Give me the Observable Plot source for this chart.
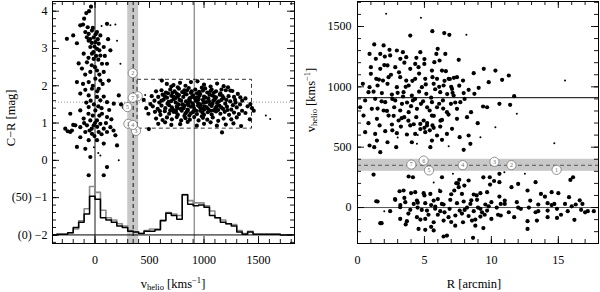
<!DOCTYPE html>
<html><head><meta charset="utf-8">
<script src="https://cdn.jsdelivr.net/npm/d3@7"></script>
<script src="https://cdn.jsdelivr.net/npm/@observablehq/plot@0.6"></script>
<style>
body{margin:0;background:#fff;}
#wrap{position:relative;width:600px;height:292px;font-family:"Liberation Serif","DejaVu Serif",serif;overflow:hidden;}
.panel{position:absolute;top:0;}
svg text{font-family:"Liberation Serif","DejaVu Serif",serif !important;}
.lab{position:absolute;font-size:12.5px;white-space:nowrap;color:#000;line-height:1;font-family:"Liberation Serif","DejaVu Serif",serif;}
.lab sub{font-size:8.5px;vertical-align:-2px;}
.lab sup{font-size:8.5px;vertical-align:5px;}
</style></head><body><div id="wrap"></div>
<script>
// ---------- DATA ----------
// Left panel: foreground stars [v_helio, C-R, size(1 big/0 small)]
const starsLeft = [[-37,4.12],[-80,3.95],[-135,3.62],[-110,3.64],[-67,3.57],[-28,3.48],[18,3.44],[-89,3.44],[-58,3.39],[-12,3.30],[49,3.35],[110,3.66],[141,3.62,0],[187,3.64,0],[-258,3.26],[-166,3.14],[-58,3.21],[3,3.17],[34,3.13],[-43,3.04],[18,2.99],[80,3.04],[-104,2.86],[-28,2.86],[49,2.81],[141,2.95],[202,3.21,0],[-74,2.63],[-12,2.72],[64,2.59],[110,2.59],[233,2.59,0],[-120,2.46],[-43,2.37],[18,2.41],[80,2.37],[-166,2.10],[-58,2.10],[3,2.19],[49,2.14],[126,2.14],[-89,1.89],[-28,1.92],[34,1.92],[-135,1.79],[-58,1.74],[18,1.70],[80,1.71],[218,1.74],[49,1.61],[110,1.56],[172,1.52],[264,1.43],[294,1.47],[239,1.50],[-58,1.43],[3,1.34],[64,1.25],[-135,1.34],[-227,1.25],[110,1.16],[-104,1.12],[-43,1.07],[18,1.07],[49,0.98],[-12,0.94],[-74,0.94],[-135,0.89],[-181,0.94],[-212,0.80],[-273,0.85],[80,0.85],[141,0.89],[110,0.76],[34,0.76],[-28,0.71],[-89,0.76],[-135,0.62],[-227,0.76],[187,0.67],[18,0.54],[-58,0.54],[-166,0.36],[80,0.45],[-43,0.09],[49,0.13,0],[110,-0.18],[80,-0.40],[-58,-0.40],[218,0.0,0],[-89,0.31],[202,0.40],
[-20,3.55],[5,3.38],[-45,3.25],[25,3.25],[-5,3.05],[-30,3.15],[40,2.95],[-75,3.30],[-15,2.90],[10,2.80],[-60,2.75],[30,2.70],[-30,2.55],[0,2.50],[-90,2.30],[40,2.30],[-20,2.00],[20,1.85],[-40,1.60],[-10,1.50],[30,1.45],[-80,1.55],[60,1.40],[-20,1.20],[40,1.20],[-60,1.25],[0,1.00],[-30,0.85],[20,0.90],[60,0.70],[-50,0.80],[-5,0.65],[100,1.00],[-100,1.00],[150,1.10],[170,0.80],[-200,0.95],[-250,0.78],[130,1.35],[-10,0.35,0],[30,0.20,0],[-110,2.05],[70,2.05],[90,2.80],[-150,2.60],[-200,3.35],[120,3.25],[60,3.60,0],[-100,3.80],[-55,4.00]];

// Left panel: globular clusters [v_helio, C-R, size]
const gcLeft = [[613,2.14],[659,2.05],[720,2.02],[780,2.08],[830,2.00],[880,2.10],[940,2.12],[1000,2.03],[1060,1.98],[1120,2.06],[1180,1.99],[760,1.96],[980,1.95],[700,1.98],[1220,1.96],
[560,1.85],[610,1.88],[650,1.82],[690,1.90],[730,1.85],[770,1.92],[800,1.83],[845,1.88],[880,1.81],[920,1.90],[955,1.84],[990,1.87],[1030,1.82],[1070,1.90],[1110,1.85],[1150,1.80],[1200,1.88],[1260,1.86],[1333,1.69],[1241,1.87],[670,1.80],[710,1.81],[750,1.79],[860,1.94],[1010,1.93],[1090,1.81],
[520,1.72],[580,1.70],[620,1.76],[660,1.68],[700,1.73],[735,1.66],[770,1.75],[810,1.70],[840,1.77],[870,1.67],[900,1.74],[935,1.69],[965,1.78],[1000,1.71],[1040,1.66],[1075,1.74],[1110,1.69],[1145,1.76],[1180,1.67],[1225,1.72],[1275,1.70],[1310,1.78],[1380,1.66],[760,1.71],[890,1.70],[1050,1.76],
[447,1.62],[508,1.51],[545,1.60],[590,1.55],[630,1.63],[665,1.52],[700,1.59],[740,1.55],[775,1.62],[805,1.50],[835,1.58],[865,1.64],[895,1.53],[925,1.60],[960,1.51],[990,1.62],[1020,1.56],[1055,1.50],[1085,1.60],[1120,1.54],[1160,1.62],[1195,1.52],[1240,1.58],[1290,1.55],[1350,1.60],[1425,1.51],[720,1.64],[850,1.52],[950,1.64],[1100,1.63],
[470,1.40],[530,1.45],[575,1.38],[610,1.47],[645,1.40],[680,1.48],[715,1.36],[750,1.44],[785,1.38],[820,1.46],[850,1.36],[880,1.44],[910,1.38],[945,1.47],[975,1.39],[1005,1.45],[1040,1.37],[1070,1.46],[1105,1.40],[1140,1.47],[1175,1.38],[1210,1.44],[1250,1.36],[1300,1.42],[1349,1.33],[1456,1.33],[1400,1.45],[800,1.49],[960,1.43],[1130,1.35],
[490,1.25],[550,1.30],[600,1.22],[640,1.32],[680,1.25],[720,1.30],[760,1.22],[795,1.33],[830,1.26],[865,1.20],[900,1.30],[935,1.24],[965,1.33],[1000,1.22],[1035,1.29],[1070,1.23],[1110,1.31],[1150,1.25],[1190,1.30],[1230,1.22],[1275,1.28],[1320,1.24],[1380,1.27],[850,1.34],[740,1.34],[1090,1.34],
[560,1.12],[620,1.08],[660,1.15],[705,1.10],[750,1.16],[790,1.07],[830,1.13],[870,1.09],[910,1.16],[950,1.07],[990,1.14],[1030,1.09],[1080,1.15],[1130,1.06],[1180,1.12],[1250,1.10],[1300,1.15],[1420,1.10],[980,1.18],[820,1.19],
[494,0.84],[580,0.98],[643,1.02],[700,0.95],[781,0.97],[850,1.03],[934,0.93],[1000,0.98],[1060,1.02],[1118,0.93],[1200,0.96],[1270,0.99],[1340,0.92],[1165,0.75],
[675,1.57],[705,1.42],[725,1.70],[745,1.28],[765,1.50],[790,1.60],[812,1.40],[826,1.78],[842,1.30],[858,1.48],[872,1.58],[887,1.85],[903,1.46],[918,1.66],[928,1.33],[942,1.55],[958,1.73],[970,1.48],[985,1.28],[996,1.55],[1012,1.68],[1025,1.42],[1046,1.58],[1063,1.33],[1078,1.52],[1095,1.70],[1115,1.44],[1135,1.58],[1158,1.42],[1170,1.72],[1205,1.62],[1215,1.35],[1265,1.48],[1285,1.62],[1330,1.50],[610,1.60],[595,1.32],[640,1.72],[690,1.34],[820,1.88],[935,1.80],[1060,1.86],[1160,1.90],[760,1.40],[880,1.26],[1000,1.36],
[1567,1.20,0],[1607,1.11,0],[460,1.75,0],[1440,1.40]];

// Right panel: [R, v_helio, size]
const rightUpper = [[2.14,1605,0],[4.74,1572,0],[8.13,1431,0],[3.94,1425],[5.59,1461],[6.48,1445],[6.86,1431],[1.25,1351],[1.95,1343],[2.39,1307],[2.94,1301],[3.39,1287],[4.69,1287],[5.89,1273],[5.99,1315],[6.56,1273],[1.70,1273],[0.90,1273],[2.44,1260],[2.04,1251],[1.37,1232],[3.2,1232],[3.64,1246],[7.56,1224],[4.31,1190],[4.99,1190],[5.74,1204],[6.13,1218],[1.0,1163],[1.70,1149],[2.24,1177],[2.82,1163],[3.94,1149],[4.56,1163],[5.56,1135],[6.31,1135],[9.43,1149],[10.3,1135],[8.68,1113],[11.3,1094],[1.0,1108],[1.40,1066],[1.90,1052],[2.32,1080],[3.19,1080],[3.64,1052],[4.31,1066],[5.06,1066],[5.94,1066],[6.81,1066],[7.43,1080],[7.88,1052],[9.8,1039],[10.8,1058],[0.4,1025],[0.9,997],[1.5,1011],[2.24,1025],[2.94,997],[3.82,1011],[4.81,997],[5.69,1025],[6.43,1011],[7.06,983],[8.30,975],[9.05,992],[15.5,1052,0],[0.82,956],[1.82,948],[2.57,936],[3.44,956],[4.06,928],[5.14,942],[6.18,956],[7.18,928],[7.93,948],[8.73,942],[11.7,923],[0.57,887],[1.32,901],[2.07,873],[2.82,887],[3.32,859],[4.14,887],[4.74,859],[5.56,873],[6.38,887],[6.98,859],[7.68,873],[9.38,837],[10.6,859],[11.4,851],[0.2,831],[1.07,818],[1.95,804],[2.74,831],[3.19,804],[3.82,790],[4.44,818],[5.39,804],[5.94,831],[6.68,790],[7.43,818],[8.48,790],[9.68,831],[11.9,776,0],[0.45,762],[1.45,735],[2.32,762],[3.07,721],[3.49,749],[4.39,749],[4.94,721],[5.56,762],[6.31,726],[7.43,735],[8.18,749],[8.98,699],[0.82,699],[1.65,680],[2.57,688],[3.24,671],[3.94,680],[4.69,693],[5.19,680],[5.69,660],[6.18,671],[7.06,652],[10.3,666,0],[0.57,624],[1.32,610],[2.07,633],[2.94,616],[3.69,605],[4.31,610],[5.06,624],[5.94,597],[6.68,610],[7.63,583],[8.30,597],[1.45,555],[2.24,541],[4.06,541],[5.56,555],[6.31,561],[8.43,528],[5.44,500],[2.89,500],[0.9,514],[1.25,500],[1.70,459],[4.44,528,0],[6.81,508,0],[7.93,478],[14.7,533,0],[9.18,583,0],
[2.6,900],[3.0,950],[3.4,920],[3.7,870],[4.0,840],[4.3,900],[4.6,960],[4.9,880],[5.2,830],[5.5,910],[5.8,980],[6.1,860],[6.4,820],[6.7,940],[7.0,1000],[2.5,1100],[3.1,1120],[3.6,1000],[4.1,1050],[4.6,1110],[5.1,1020],[5.6,1080],[6.1,1000],[6.6,1130],[7.1,950],[2.2,800],[2.7,760],[3.3,740],[3.8,720],[4.2,690],[4.7,650],[5.2,700],[5.7,760],[6.2,720],[6.8,770],[1.8,880],[1.5,820],[2.0,1180],[1.6,1060],[1.2,960],[3.5,1200],[4.4,1240],[5.0,1230],[5.4,640],[5.0,660],[5.6,680],[4.5,600,0],[2.6,640],[3.0,580,0],[7.3,870],[7.6,1010],[8.0,900],[6.5,1050],[6.9,1065],[7.2,1075]];

const rightLower = [[1.2,273],[3.82,257],[4.14,251],[5.69,207,0],[6.31,251],[7.13,279,0],[7.38,202],[7.56,169],[7.23,141],[7.98,182],[8.30,224],[9.88,251],[10.6,210],[10.6,279],[10.97,293,0],[12.0,196],[12.5,279,0],[13.3,210],[16.1,251],[15.9,229],[3.14,135],[3.44,141],[4.31,127],[4.94,119],[5.44,113],[6.18,135],[7.8,113],[8.68,108],[9.18,119],[9.68,127],[10.6,91],[11.5,169],[12.7,141],[13.7,113],[14.5,127],[15.0,119],[15.8,86],[1.4,52],[2.82,64],[3.57,44],[4.44,58],[5.06,36],[5.69,58],[6.43,25],[6.93,64],[7.43,36],[7.93,50],[8.43,30],[8.93,64],[9.55,25],[10.0,44],[10.7,30],[11.0,58],[11.9,44],[12.9,58],[13.5,25],[14.2,36],[14.7,30],[15.5,30],[16.3,25],[16.8,30],[2.44,-30],[3.19,3],[3.94,-19],[4.49,0],[5.19,-25],[5.81,8],[6.18,-30],[6.88,-11],[7.63,-25],[8.18,0],[8.68,-30],[9.18,-11],[9.68,-25],[10.4,0],[11.3,-39],[12.2,-11],[12.8,0],[13.3,-39],[14.2,-25],[14.9,-11],[15.7,-30],[16.7,-19],[17.2,-30],[17.65,-30],[1.70,-130],[3.19,-94],[3.69,-113],[4.44,-80],[5.06,-94],[5.69,-122],[6.43,-108],[7.31,-66],[7.88,-122],[8.55,-108],[9.18,-75],[10.0,-94],[10.7,-66],[11.7,-80],[12.7,-113],[13.4,-108],[14.2,-80],[14.9,-86],[16.2,-102],[4.56,-177],[5.06,-185],[5.69,-190],[6.43,-240],[6.68,-232],[8.63,-251],[12.7,-177],
[3.5,80],[4.0,120],[4.5,40],[5.0,100],[5.5,20],[6.0,70],[6.5,-40],[7.0,110],[7.5,200],[8.0,-20],[8.5,60],[9.0,0],[9.5,-60],[3.8,-50],[4.8,-20],[5.3,-60],[5.8,-10],[6.3,30],[6.8,-80],[7.3,-150],[7.8,-50],[8.3,-70],[8.8,-100],[9.3,-40],[9.8,10],[4.2,30],[3.2,20],[2.8,70],[6.1,150,0],[7.6,230],[8.9,100],[9.4,250],[9.9,190],[10.2,220],[3.6,-140],[5.5,-160],[8.8,-150],[9.4,-170],[7.0,-120],[6.0,-60],[4.7,-100],[10.5,-60],[11.0,30],[12.0,0],[13.5,-30],[14.0,90],[14.5,20],[15.2,-60],[16.0,10],[16.6,60],[17.0,-40],[2.0,-30,0],[1.5,50],[1.8,-130]];

// Numbered objects near the systemic velocity
const markerIds   = ["1","2","3","4","5","6","7"];
const markerV     = [312, 351, 379, 351, 307, 389, 356];
const markerR     = [14.87, 11.5, 10.23, 7.86, 5.34, 4.94, 4.02];
const markerVleft = [306, 346, 376, 346, 297, 392, 346];
const markerCR    = [0.98, 2.34, 0.79, 0.95, 1.43, 1.72, 1.68];

// Histograms: counts in 50 km/s bins starting at -400 (y = -2 + count/50)
const histBinStart = -400, histBinWidth = 50;
const histBlack = [0,1,1,3,10,17,28,52,48,23,20,17,12,10,5,4,2,5,5,7,19,29,26,21,54,41,39,40,37,26,23,17,15,12,4,1,4,1,1,1,1,1,0,0];
const histGray  = [0,1,1,3,8,19,35,65,57,33,23,20,15,12,6,4,2,6,8,8,20,30,28,26,54,46,43,43,39,32,23,20,15,14,6,2,5,1,1,1,1,1,0,0];

// Reference values
const vSys = 910, vDash = 350, vBand = [300, 400];
const crMean = 1.56;
const gcBox = {v1: 390, v2: 1440, c1: 0.85, c2: 2.16};

// Tick labels
const leftXTicks = [0, 500, 1000, 1500];
const leftYTicks = [4, 3, 2, 1, 0, -1, -2];
const leftYTickLabels = ["4", "3", "2", "1", "0", "(50) \u22121", "(0) \u22122"];
const rightXTicks = [0, 5, 10, 15];
const rightYTicks = [0, 500, 1000, 1500];

// ---------- DRAW ----------
const BIG = 2.1, SMALL = 1.0;
const FONT = "'Liberation Serif', 'DejaVu Serif', serif";
function frameTicks(xMinor, xMajor, yMinor, yMajor, pw, ph) {
  const m = [];
  for (const [vals, len] of [[xMinor, 4], [xMajor, 7]]) {
    m.push(Plot.tickX(vals, {x: d => d, insetTop: ph - len, stroke: "black", strokeWidth: 0.9}));
    m.push(Plot.tickX(vals, {x: d => d, insetBottom: ph - len, stroke: "black", strokeWidth: 0.9}));
  }
  for (const [vals, len] of [[yMinor, 4], [yMajor, 7]]) {
    m.push(Plot.tickY(vals, {y: d => d, insetRight: pw - len, stroke: "black", strokeWidth: 0.9}));
    m.push(Plot.tickY(vals, {y: d => d, insetLeft: pw - len, stroke: "black", strokeWidth: 0.9}));
  }
  return m;
}
function dots(data, fx, fy) {
  return [
    Plot.dot(data.filter(d => d[2] !== 0), {x: fx, y: fy, r: BIG, fill: "black", stroke: "none"}),
    Plot.dot(data.filter(d => d[2] === 0), {x: fx, y: fy, r: SMALL, fill: "black", stroke: "none"})
  ];
}
const histPts = (counts) => {
  const pts = counts.map((c, i) => ({x: histBinStart + i * histBinWidth, y: -2 + c / 50}));
  pts.push({x: histBinStart + counts.length * histBinWidth, y: -2 + counts[counts.length - 1] / 50});
  return pts;
};
const markers = markerIds.map((id, i) => ({id, v: markerV[i], R: markerR[i], vl: markerVleft[i], cr: markerCR[i]}));

const LW = 300, LH = 292, LML = 52, LMR = 6, LMT = 1, LMB = 49;
const left = Plot.plot({
  width: LW, height: LH, marginLeft: LML, marginRight: LMR, marginTop: LMT, marginBottom: LMB,
  style: {fontFamily: FONT, fontSize: "12px", background: "white", color: "black"},
  x: {domain: [-390, 1830]},
  y: {domain: [-2.23, 4.26]},
  marks: [
    Plot.rect([vBand], {x1: d => d[0], x2: d => d[1], fill: "#c8c8c8"}),
    Plot.ruleY([crMean], {stroke: "#888", strokeDasharray: "1,2", strokeWidth: 0.9}),
    Plot.ruleX([0], {stroke: "black", strokeWidth: 0.9}),
    Plot.ruleX([vSys], {stroke: "#666", strokeWidth: 1}),
    Plot.ruleX([vDash], {stroke: "black", strokeDasharray: "4,3", strokeWidth: 0.9}),
    Plot.rect([gcBox], {x1: "v1", x2: "v2", y1: "c1", y2: "c2", fill: "none", stroke: "black", strokeDasharray: "4,3", strokeWidth: 0.8}),
    Plot.ruleY([-2], {stroke: "black", strokeWidth: 1}),
    Plot.line(histPts(histGray), {x: "x", y: "y", curve: "step-after", stroke: "#8a8a8a", strokeWidth: 1.6, clip: true}),
    Plot.line(histPts(histBlack), {x: "x", y: "y", curve: "step-after", stroke: "black", strokeWidth: 1.5, clip: true}),
    ...dots(starsLeft, d => d[0], d => d[1]),
    ...dots(gcLeft, d => d[0], d => d[1]),
    Plot.dot(markers, {x: "vl", y: "cr", r: 4.6, fill: "white", stroke: "#777", strokeWidth: 0.8}),
    Plot.text(markers, {x: "vl", y: "cr", text: "id", fontSize: 6, fill: "#666"}),
    ...frameTicks(d3.range(-300, 1801, 100), leftXTicks, d3.range(-2.2, 4.21, 0.2), leftYTicks, LW - LML - LMR, LH - LMT - LMB),
    Plot.frame({stroke: "black", strokeWidth: 1}),
    Plot.axisX({ticks: leftXTicks, tickSize: 0, tickPadding: 12, tickFormat: d => String(d), label: null, fontFamily: FONT}),
    Plot.axisY({ticks: leftYTicks, tickSize: 0, tickPadding: 5, tickFormat: d => leftYTickLabels[leftYTicks.indexOf(d)], label: null, fontFamily: FONT})
  ]
});

const RW = 300, RH = 292, RML = 57, RMR = 2, RMT = 1, RMB = 49;
const right = Plot.plot({
  width: RW, height: RH, marginLeft: RML, marginRight: RMR, marginTop: RMT, marginBottom: RMB,
  style: {fontFamily: FONT, fontSize: "12px", background: "white", color: "black"},
  x: {domain: [0, 18]},
  y: {domain: [-298, 1707]},
  marks: [
    Plot.rect([vBand], {y1: d => d[0], y2: d => d[1], fill: "#c8c8c8"}),
    Plot.ruleY([vDash], {stroke: "#555", strokeDasharray: "4,3", strokeWidth: 1}),
    Plot.ruleY([vSys], {stroke: "black", strokeWidth: 1}),
    Plot.ruleY([0], {stroke: "#555", strokeWidth: 1}),
    ...dots(rightUpper, d => d[0], d => d[1]),
    ...dots(rightLower, d => d[0], d => d[1]),
    Plot.dot(markers, {x: "R", y: "v", r: 4.6, fill: "white", stroke: "#777", strokeWidth: 0.8}),
    Plot.text(markers, {x: "R", y: "v", text: "id", fontSize: 6, fill: "#666"}),
    ...frameTicks(d3.range(0, 18.01, 1), rightXTicks, d3.range(-200, 1701, 100), rightYTicks, RW - RML - RMR, RH - RMT - RMB),
    Plot.frame({stroke: "black", strokeWidth: 1}),
    Plot.axisX({ticks: rightXTicks, tickSize: 0, tickPadding: 12, tickFormat: d => String(d), label: null, fontFamily: FONT}),
    Plot.axisY({ticks: rightYTicks, tickSize: 0, tickPadding: 6, tickFormat: d => String(d), label: null, fontFamily: FONT})
  ]
});

const wrap = document.getElementById("wrap");
left.classList.add("panel"); left.style.left = "0px";
right.classList.add("panel"); right.style.left = "300px";
wrap.appendChild(left); wrap.appendChild(right);

function addLabel(html, cx, cy, rotate) {
  const d = document.createElement("div");
  d.className = "lab";
  d.innerHTML = html;
  d.style.left = cx + "px"; d.style.top = cy + "px";
  d.style.transform = "translate(-50%,-50%)" + (rotate ? " rotate(-90deg)" : "");
  wrap.appendChild(d);
}
addLabel("v<sub>helio</sub> [kms<sup>\u22121</sup>]", 173, 284, false);
addLabel("C\u2212R [mag]", 11, 118, true);
addLabel("R [arcmin]", 474, 284, false);
addLabel("v<sub>helio</sub> [kms<sup>\u22121</sup>]", 311, 100, true);
</script></body></html>
